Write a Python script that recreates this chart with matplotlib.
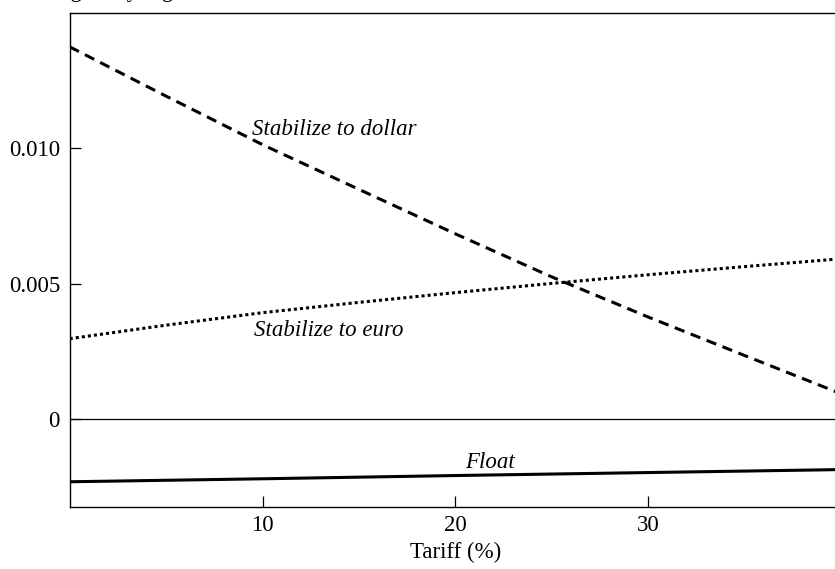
import matplotlib
matplotlib.use("Agg")
import matplotlib.pyplot as plt

plt.rcParams['font.family'] = ['Liberation Serif', 'DejaVu Serif']
plt.rcParams['mathtext.fontset'] = 'stix'

# Data
tariff = [0, 5, 10, 15, 20, 25, 30, 35, 40]
stab_dollar = [0.01374, 0.01192, 0.01013, 0.00848, 0.00684, 0.00525, 0.00377, 0.00235, 0.00094]
stab_euro = [0.00297, 0.00347, 0.00393, 0.00431, 0.00467, 0.00501, 0.00533, 0.00563, 0.00592]
float_tariff = [0, 10, 20, 30, 40]
float_vals = [-0.00231, -0.00220, -0.00208, -0.00197, -0.00186]

xticks = [10, 20, 30]
yticks = [0, 0.005, 0.010]
ytick_labels = ["0", "0.005", "0.010"]

W, H = 835, 569
fig = plt.figure(figsize=(W / 100, H / 100), dpi=100)
left, right, top, bottom = 69.7, 841, 12.7, 506.7
ax = fig.add_axes([left / W, 1 - bottom / H, (right - left) / W, (bottom - top) / H])

ax.plot(tariff, stab_dollar, color='black', lw=2.2, linestyle=(0, (3.4, 2.2)))
ax.plot(tariff, stab_euro, color='black', lw=2.2, linestyle=(0, (1, 1)))
ax.plot(float_tariff, float_vals, color='black', lw=2.2, solid_capstyle='butt')
ax.axhline(0, color='black', lw=0.9)

ax.set_xlim(0, 40)
ax.set_ylim(-0.00323, 0.0150)

ax.set_xticks(xticks)
ax.set_xticklabels([str(t) for t in xticks])
ax.set_yticks(yticks)
ax.set_yticklabels(ytick_labels)
ax.tick_params(direction='in', length=8, width=0.9, labelsize=16.5, pad=7)
ax.tick_params(axis='x', pad=6)
for s in ax.spines.values():
    s.set_linewidth(1.0)

ax.set_xlabel("Tariff (%)", fontsize=16.5, labelpad=4)

ax.text(9.48, 0.01049, "Stabilize to dollar", fontsize=16.5, style='italic', va='baseline')
ax.text(9.58, 0.00307, "Stabilize to euro", fontsize=16.5, style='italic', va='baseline')
ax.text(20.5, -0.0018, "Float", fontsize=16.5, style='italic', va='baseline')

fig.text(-7 / W, 1 + 2.5 / H, "Welfare gain by regime", fontsize=16.5, va='baseline', ha='left')

fig.savefig("out.png", dpi=100)
